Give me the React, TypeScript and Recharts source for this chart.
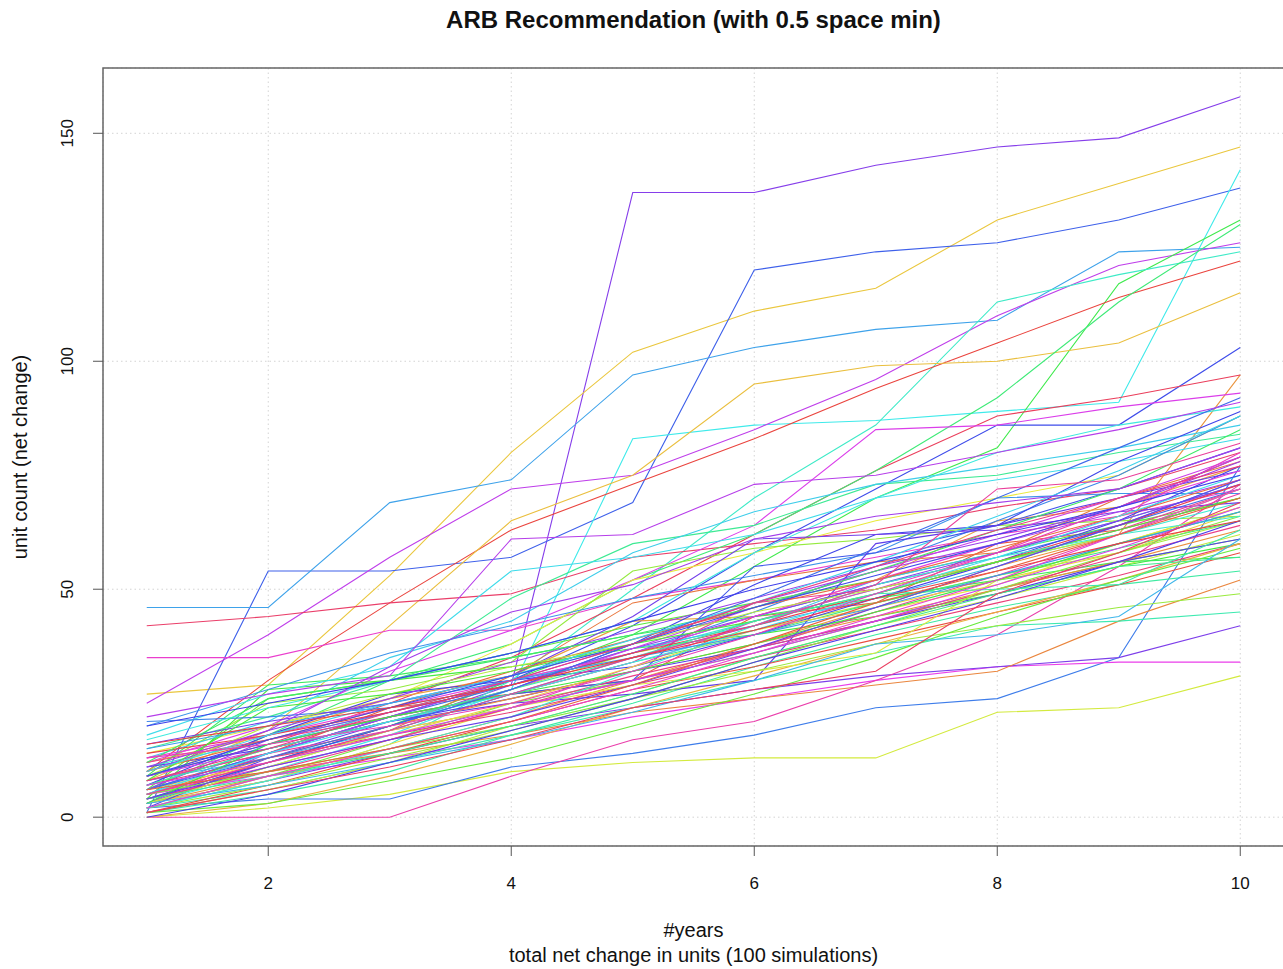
import React from 'react';
import { LineChart, Line, XAxis, YAxis, CartesianGrid, ReferenceArea } from 'recharts';

const FONT = '"Liberation Sans", Arial, Helvetica, sans-serif';

const YEARS = [1, 2, 3, 4, 5, 6, 7, 8, 9, 10];
const X_TICKS = [2, 4, 6, 8, 10];
const Y_TICKS = [0, 50, 100, 150];

// one row per simulation: net unit count for years 1..10
const RUNS: number[][] = [
  [3, 12, 20, 29, 137, 137, 143, 147, 149, 158],
  [27, 29, 53, 80, 102, 111, 116, 131, 139, 147],
  [1, 54, 54, 57, 69, 120, 124, 126, 131, 138],
  [3, 10, 18, 28, 83, 86, 87, 89, 91, 142],
  [46, 46, 69, 74, 97, 103, 107, 109, 124, 125],
  [25, 40, 57, 72, 75, 85, 96, 110, 121, 126],
  [4, 12, 20, 30, 40, 55, 70, 81, 117, 131],
  [2, 8, 16, 30, 50, 70, 86, 113, 119, 124],
  [10, 30, 47, 63, 73, 83, 94, 104, 114, 122],
  [8, 19, 42, 65, 75, 95, 99, 100, 104, 115],
  [0, 2, 5, 10, 12, 13, 13, 23, 24, 31],
  [2, 4, 4, 11, 14, 18, 24, 26, 35, 77],
  [5, 9, 13, 17, 22, 26, 30, 33, 34, 34],
  [3, 8, 14, 20, 24, 28, 31, 33, 35, 42],
  [4, 10, 14, 18, 23, 26, 29, 32, 43, 52],
  [0, 0, 0, 9, 17, 21, 30, 40, 55, 73],
  [2, 6, 12, 18, 24, 30, 36, 42, 43, 45],
  [42, 44, 47, 49, 57, 60, 63, 68, 72, 80],
  [35, 35, 41, 41, 48, 52, 57, 62, 66, 72],
  [6, 14, 22, 30, 42, 58, 72, 86, 86, 103],
  [3, 9, 15, 22, 30, 38, 46, 55, 62, 97],
  [9, 16, 25, 35, 48, 62, 76, 88, 92, 97],
  [6, 18, 30, 38, 52, 62, 76, 92, 113, 130],
  [12, 20, 32, 41, 52, 64, 85, 86, 90, 93],
  [8, 14, 24, 27, 30, 44, 47, 60, 63, 70],
  [5, 12, 19, 31, 47, 52, 56, 58, 70, 78],
  [12, 18, 26, 31, 43, 44, 52, 65, 68, 77],
  [3, 8, 16, 24, 30, 37, 45, 51, 60, 68],
  [14, 20, 26, 38, 52, 58, 65, 70, 75, 88],
  [1, 6, 12, 20, 27, 35, 42, 48, 55, 62],
  [7, 15, 21, 28, 36, 41, 47, 53, 58, 65],
  [10, 25, 28, 34, 54, 59, 61, 64, 65, 66],
  [2, 9, 17, 25, 30, 36, 43, 50, 56, 61],
  [6, 26, 30, 36, 42, 47, 52, 58, 64, 70],
  [4, 28, 30, 33, 37, 40, 44, 49, 55, 60],
  [9, 29, 31, 35, 40, 44, 48, 52, 56, 57],
  [3, 11, 19, 27, 34, 40, 47, 53, 59, 65],
  [15, 22, 30, 48, 60, 64, 73, 75, 80, 84],
  [1, 5, 10, 18, 25, 33, 40, 46, 51, 54],
  [11, 17, 23, 30, 36, 43, 50, 56, 62, 69],
  [18, 27, 33, 54, 57, 62, 70, 74, 78, 83],
  [13, 21, 35, 43, 58, 67, 73, 77, 81, 86],
  [5, 16, 23, 29, 37, 42, 52, 58, 65, 73],
  [8, 13, 19, 27, 35, 42, 48, 55, 64, 74],
  [20, 28, 36, 42, 48, 53, 58, 70, 71, 71],
  [21, 22, 24, 29, 36, 45, 55, 65, 75, 88],
  [6, 14, 22, 29, 36, 44, 51, 57, 64, 72],
  [9, 16, 22, 27, 30, 55, 58, 64, 72, 81],
  [4, 12, 20, 28, 38, 51, 62, 64, 78, 89],
  [7, 18, 27, 30, 33, 40, 48, 56, 65, 77],
  [11, 15, 21, 26, 32, 37, 43, 49, 56, 61],
  [2, 13, 21, 25, 27, 30, 60, 64, 70, 76],
  [16, 21, 25, 31, 44, 61, 62, 63, 67, 69],
  [6, 17, 23, 29, 37, 44, 51, 58, 65, 73],
  [10, 19, 26, 34, 41, 48, 55, 61, 68, 78],
  [3, 14, 22, 30, 38, 47, 54, 60, 67, 74],
  [9, 15, 21, 28, 37, 46, 54, 62, 70, 79],
  [13, 18, 24, 30, 36, 44, 52, 60, 68, 76],
  [5, 11, 17, 24, 33, 43, 50, 58, 66, 80],
  [8, 14, 19, 24, 30, 37, 45, 53, 62, 71],
  [12, 17, 22, 27, 34, 47, 50, 56, 63, 72],
  [4, 10, 17, 24, 31, 37, 43, 50, 57, 64],
  [7, 13, 18, 23, 29, 35, 41, 47, 53, 60],
  [14, 18, 23, 29, 36, 42, 49, 56, 64, 73],
  [1, 7, 14, 21, 28, 33, 39, 45, 51, 58],
  [10, 17, 24, 32, 39, 46, 52, 59, 66, 74],
  [5, 13, 20, 26, 32, 38, 44, 50, 56, 63],
  [0, 3, 9, 16, 24, 31, 38, 45, 52, 60],
  [6, 12, 18, 25, 33, 41, 46, 52, 58, 67],
  [3, 11, 19, 24, 29, 32, 36, 52, 60, 68],
  [9, 20, 27, 33, 38, 45, 50, 56, 62, 72],
  [2, 7, 13, 19, 26, 32, 38, 42, 46, 49],
  [5, 10, 15, 20, 26, 34, 42, 50, 58, 66],
  [1, 3, 8, 13, 20, 27, 35, 44, 52, 59],
  [8, 24, 27, 32, 38, 43, 49, 56, 63, 70],
  [3, 16, 22, 27, 32, 38, 45, 52, 60, 67],
  [12, 26, 30, 35, 40, 46, 54, 63, 72, 85],
  [4, 9, 14, 20, 27, 35, 42, 49, 55, 57],
  [7, 15, 21, 28, 35, 43, 49, 50, 51, 63],
  [2, 8, 15, 22, 32, 42, 51, 57, 62, 66],
  [17, 24, 30, 36, 43, 58, 70, 80, 86, 90],
  [5, 14, 21, 27, 34, 41, 49, 57, 66, 75],
  [10, 18, 25, 31, 39, 47, 56, 66, 76, 88],
  [3, 7, 12, 17, 23, 30, 38, 40, 44, 61],
  [15, 20, 25, 30, 35, 40, 46, 53, 60, 67],
  [6, 13, 20, 28, 38, 48, 59, 70, 81, 92],
  [9, 17, 24, 31, 38, 46, 53, 60, 68, 79],
  [0, 5, 12, 19, 26, 34, 41, 48, 56, 65],
  [4, 11, 17, 22, 29, 37, 46, 55, 64, 74],
  [11, 19, 33, 45, 51, 61, 66, 69, 72, 81],
  [22, 27, 31, 61, 62, 73, 75, 80, 85, 91],
  [7, 12, 18, 24, 30, 36, 43, 51, 59, 68],
  [2, 9, 15, 21, 28, 36, 44, 52, 62, 72],
  [13, 16, 20, 25, 32, 40, 49, 58, 68, 79],
  [5, 12, 19, 27, 35, 42, 51, 72, 74, 82],
  [8, 15, 23, 30, 38, 47, 55, 63, 70, 77],
  [1, 6, 11, 17, 24, 28, 32, 49, 58, 69],
  [16, 20, 24, 29, 35, 41, 48, 54, 60, 65],
  [6, 10, 15, 21, 29, 38, 47, 54, 62, 70],
  [20, 25, 30, 36, 43, 50, 56, 62, 68, 75],
];

// hue of each run's line
const RUN_HUES = [
  265, 48, 228, 180, 205, 285, 125, 168, 2, 45,
  68, 218, 300, 262, 25, 322, 160, 345, 310, 235,
  30, 350, 140, 295, 10, 20, 35, 55, 60, 75,
  82, 90, 100, 110, 118, 132, 145, 150, 155, 172,
  185, 190, 195, 200, 210, 215, 222, 232, 238, 242,
  248, 252, 258, 268, 272, 278, 290, 305, 315, 325,
  330, 335, 340, 355, 5, 15, 28, 40, 52, 65,
  78, 88, 95, 105, 115, 122, 135, 148, 158, 170,
  176, 182, 188, 198, 208, 225, 235, 245, 255, 275,
  282, 292, 308, 318, 328, 338, 348, 358, 12, 240,
];

const rows = YEARS.map((year, i) => {
  const row: Record<string, number> = { year };
  RUNS.forEach((run, k) => {
    row[`s${k}`] = run[i];
  });
  return row;
});

const YTick = (props: any) => {
  const { x, y, payload } = props;
  const cx = x - 8;
  return (
    <text
      x={cx}
      y={y}
      transform={`rotate(-90, ${cx}, ${y})`}
      textAnchor="middle"
      dominantBaseline="central"
      fontSize={17}
      fontFamily={FONT}
      fill="#111"
    >
      {payload.value}
    </text>
  );
};

const App: React.FC = () => {
  return (
    <div
      style={{
        position: 'absolute',
        left: 0,
        top: 0,
        width: 1283,
        height: 969,
        overflow: 'hidden',
        background: '#fff',
        fontFamily: FONT,
        color: '#111',
      }}
    >
      <LineChart width={1292} height={969} data={rows} margin={{ top: 68, right: 8, bottom: 0, left: 0 }}>
        <CartesianGrid stroke="#d3d3d3" strokeDasharray="1.5 3" />
        <XAxis
          type="number"
          dataKey="year"
          domain={[0.64, 10.36]}
          ticks={X_TICKS}
          height={123}
          axisLine={false}
          tickSize={10}
          tickMargin={21}
          stroke="#555"
          tick={{ fill: '#111', fontSize: 17, fontFamily: FONT }}
        />
        <YAxis
          type="number"
          domain={[-6.32, 164.32]}
          ticks={Y_TICKS}
          width={103}
          axisLine={false}
          tickSize={10}
          tickMargin={17}
          stroke="#555"
          tick={<YTick />}
        />
        <ReferenceArea
          x1={0.64}
          x2={10.36}
          y1={-6.32}
          y2={164.32}
          fill="none"
          stroke="#666"
          strokeWidth={1.5}
          ifOverflow="visible"
        />
        {RUNS.map((_, k) => (
          <Line
            key={k}
            type="linear"
            dataKey={`s${k}`}
            stroke={`hsl(${RUN_HUES[k]}, 80%, 58%)`}
            strokeWidth={1.1}
            dot={false}
            activeDot={false}
            isAnimationActive={false}
          />
        ))}
      </LineChart>

      <div
        style={{
          position: 'absolute',
          left: 103,
          width: 1181,
          top: 6,
          textAlign: 'center',
          fontSize: 24,
          lineHeight: '28px',
          fontWeight: 'bold',
        }}
      >
        ARB Recommendation (with 0.5 space min)
      </div>
      <div
        style={{
          position: 'absolute',
          left: 103,
          width: 1181,
          top: 918,
          textAlign: 'center',
          fontSize: 20,
          lineHeight: '24px',
        }}
      >
        #years
      </div>
      <div
        style={{
          position: 'absolute',
          left: 103,
          width: 1181,
          top: 943,
          textAlign: 'center',
          fontSize: 20,
          lineHeight: '24px',
        }}
      >
        total net change in units (100 simulations)
      </div>
      <div
        style={{
          position: 'absolute',
          left: 20,
          top: 457,
          fontSize: 20,
          lineHeight: '24px',
          whiteSpace: 'nowrap',
          transform: 'translate(-50%, -50%) rotate(-90deg)',
        }}
      >
        unit count (net change)
      </div>
    </div>
  );
};

export default App;
